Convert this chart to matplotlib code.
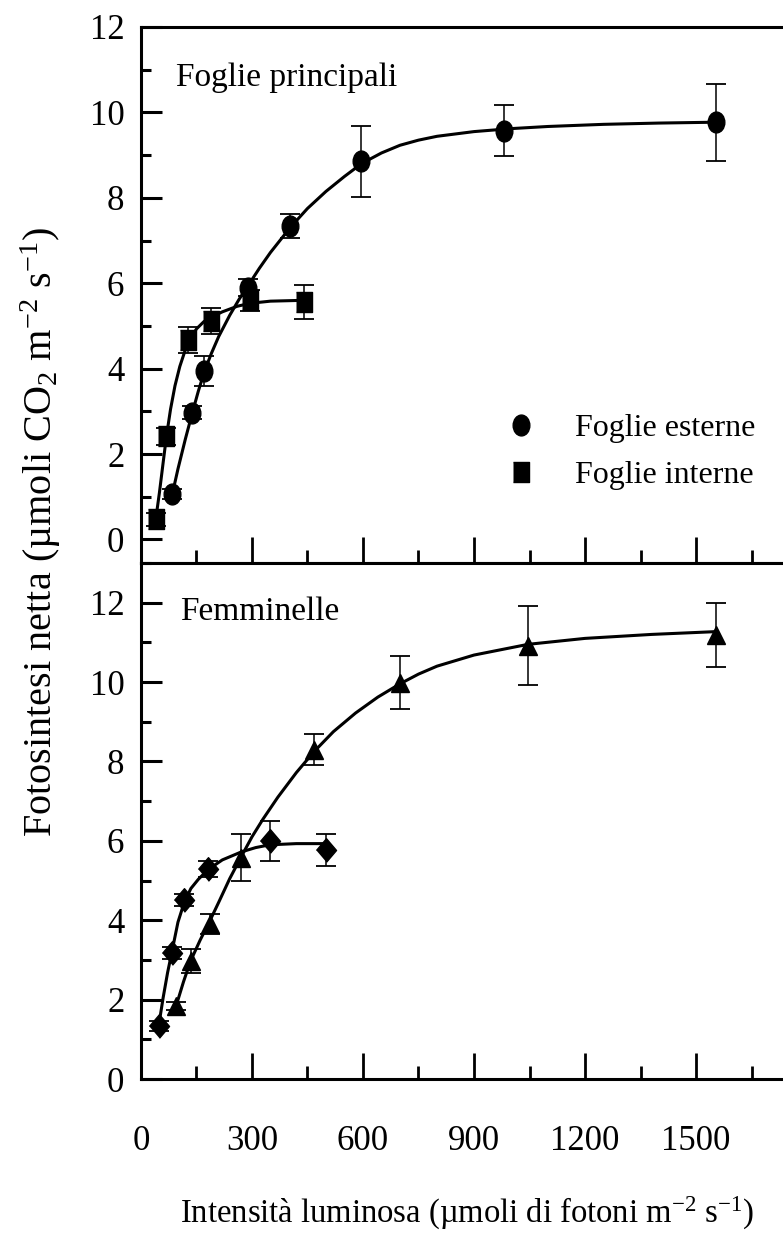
import numpy as np
import matplotlib
matplotlib.use('Agg')
import matplotlib.pyplot as plt
from matplotlib.path import Path
from matplotlib.transforms import Affine2D
from matplotlib.ticker import MultipleLocator

plt.rcParams['font.family'] = ['Liberation Serif', 'DejaVu Serif']
plt.rcParams['mathtext.fontset'] = 'custom'
plt.rcParams['mathtext.rm'] = 'Liberation Serif'
plt.rcParams['mathtext.it'] = 'Liberation Serif:italic'

# --- Foglie principali: foglie esterne (cerchi) ---
est_x = [85, 139, 171, 290, 403, 596, 982, 1553]
est_y = [1.07, 2.97, 3.94, 5.89, 7.33, 8.85, 9.57, 9.77]
est_err = [0.12, 0.15, 0.35, 0.2, 0.28, 0.82, 0.6, 0.9]
# fitted curve
est_fit_x = [85, 100, 120, 139, 155, 171, 190, 210, 240, 265, 290, 320, 350,
             403, 450, 500, 550, 596, 650, 700, 750, 800, 900, 1000, 1100,
             1250, 1400, 1553]
est_fit_y = [1.07, 1.65, 2.35, 2.97, 3.47, 3.92, 4.35, 4.75, 5.25, 5.62, 5.95,
             6.35, 6.72, 7.3, 7.75, 8.15, 8.5, 8.8, 9.05, 9.23, 9.35, 9.44,
             9.55, 9.62, 9.67, 9.72, 9.75, 9.77]

# --- Foglie principali: foglie interne (quadrati) ---
int_x = [40, 69, 126, 189, 295, 441]
int_y = [0.47, 2.42, 4.67, 5.12, 5.6, 5.56]
int_err = [0.15, 0.2, 0.3, 0.3, 0.25, 0.4]
int_fit_x = [40, 50, 60, 69, 80, 92, 105, 126, 150, 170, 189, 220, 260, 295,
             350, 441]
int_fit_y = [0.47, 1.1, 1.8, 2.42, 3.05, 3.6, 4.05, 4.6, 4.93, 5.1, 5.2, 5.33,
             5.46, 5.53, 5.58, 5.6]

# --- Femminelle: triangoli ---
tri_x = [95, 134, 187, 271, 468, 699, 1046, 1553]
tri_y = [1.84, 2.97, 3.9, 5.58, 8.3, 9.98, 10.92, 11.18]
tri_err = [0.1, 0.3, 0.25, 0.6, 0.38, 0.67, 1.0, 0.8]
tri_fit_x = [95, 115, 134, 160, 187, 210, 240, 271, 300, 330, 370, 420, 468,
             520, 580, 640, 699, 750, 800, 900, 1046, 1200, 1380, 1553]
tri_fit_y = [1.84, 2.45, 2.97, 3.5, 4.0, 4.45, 5.05, 5.6, 6.1, 6.55, 7.1,
             7.72, 8.25, 8.75, 9.22, 9.62, 9.95, 10.2, 10.4, 10.68, 10.95,
             11.1, 11.2, 11.27]

# --- Femminelle: rombi ---
dia_x = [48, 84, 117, 182, 348, 501]
dia_y = [1.34, 3.18, 4.5, 5.29, 6.0, 5.77]
dia_err = [0.12, 0.15, 0.15, 0.2, 0.5, 0.4]
dia_fit_x = [48, 60, 72, 84, 100, 117, 135, 155, 182, 220, 271, 310, 348,
             420, 501]
dia_fit_y = [1.34, 2.05, 2.68, 3.22, 3.95, 4.45, 4.8, 5.03, 5.28, 5.52, 5.72,
             5.83, 5.9, 5.93, 5.93]

legend_labels = ['Foglie esterne', 'Foglie interne']
panel_titles = ['Foglie principali', 'Femminelle']
x_ticks = [0, 300, 600, 900, 1200, 1500]

# slightly tall markers, like the source figure
ellipse = Path.unit_circle().transformed(Affine2D().scale(0.8, 1.0))
square = [(-0.78, -1), (0.78, -1), (0.78, 1), (-0.78, 1)]
diamond = [(0, -1), (0.85, 0), (0, 1), (-0.85, 0)]

fig = plt.figure(figsize=(7.83, 12.37), dpi=100)
ax1 = fig.add_axes([0.180, 0.5449, 0.82, 0.4333])
ax2 = fig.add_axes([0.180, 0.1277, 0.82, 0.4172])


def draw_series(ax, x, y, err, fx, fy, marker, ms, label=None):
    ax.plot(fx, fy, color='black', lw=2.2, zorder=2)
    ax.errorbar(x, y, yerr=err, fmt='none', ecolor='black', elinewidth=1.1,
                capsize=7.5, capthick=1.3, zorder=3)
    ax.plot(x, y, ls='none', marker=marker, ms=ms, color='black',
            mec='black', zorder=4, label=label)


draw_series(ax1, est_x, est_y, est_err, est_fit_x, est_fit_y, ellipse, 15,
            legend_labels[0])
draw_series(ax1, int_x, int_y, int_err, int_fit_x, int_fit_y, square, 14,
            legend_labels[1])
draw_series(ax2, tri_x, tri_y, tri_err, tri_fit_x, tri_fit_y, '^', 13.5)
draw_series(ax2, dia_x, dia_y, dia_err, dia_fit_x, dia_fit_y, diamond, 17)

ax1.set_ylim(-0.55, 12)
ax2.set_ylim(0, 13)

for ax in (ax1, ax2):
    ax.set_xlim(0, 1735)
    ax.set_xticks(x_ticks)
    ax.xaxis.set_minor_locator(MultipleLocator(150))
    ax.yaxis.set_major_locator(MultipleLocator(2))
    ax.yaxis.set_minor_locator(MultipleLocator(1))
    ax.spines['right'].set_visible(False)
    for s in ('left', 'top', 'bottom'):
        ax.spines[s].set_linewidth(2.2)
    ax.tick_params(axis='x', which='major', direction='in', length=19,
                   width=2, labelsize=25, pad=33, top=False)
    ax.tick_params(axis='x', which='minor', direction='in', length=9.5,
                   width=2, top=False)
    ax.tick_params(axis='y', which='major', direction='in', length=15,
                   width=2.2, labelsize=25, pad=12, right=False)
    ax.tick_params(axis='y', which='minor', direction='in', length=7.5,
                   width=2.2, right=False)

ax1.tick_params(axis='x', labelbottom=False)

ax1.text(0.055, 0.905, panel_titles[0], transform=ax1.transAxes,
         fontsize=24, va='center', ha='left')
ax2.text(0.061, 0.905, panel_titles[1], transform=ax2.transAxes,
         fontsize=24, va='center', ha='left')

ax1.legend(loc='center left', bbox_to_anchor=(0.567, 0.207), frameon=False,
           fontsize=23, numpoints=1, handlelength=1.0, handletextpad=1.2,
           borderpad=0, borderaxespad=0, labelspacing=0.55)

fig.text(0.052, 1 - 532 / 1237,
         'Fotosintesi netta (µmoli CO$_2$ m$^{-2}$ s$^{-1}$)',
         rotation=90, fontsize=29, ha='center', va='center')
fig.text(0.597, 1 - 1213 / 1237,
         'Intensità luminosa (µmoli di fotoni m$^{-2}$ s$^{-1}$)',
         fontsize=23.5, ha='center', va='center')

fig.savefig('out.png', dpi=100)
